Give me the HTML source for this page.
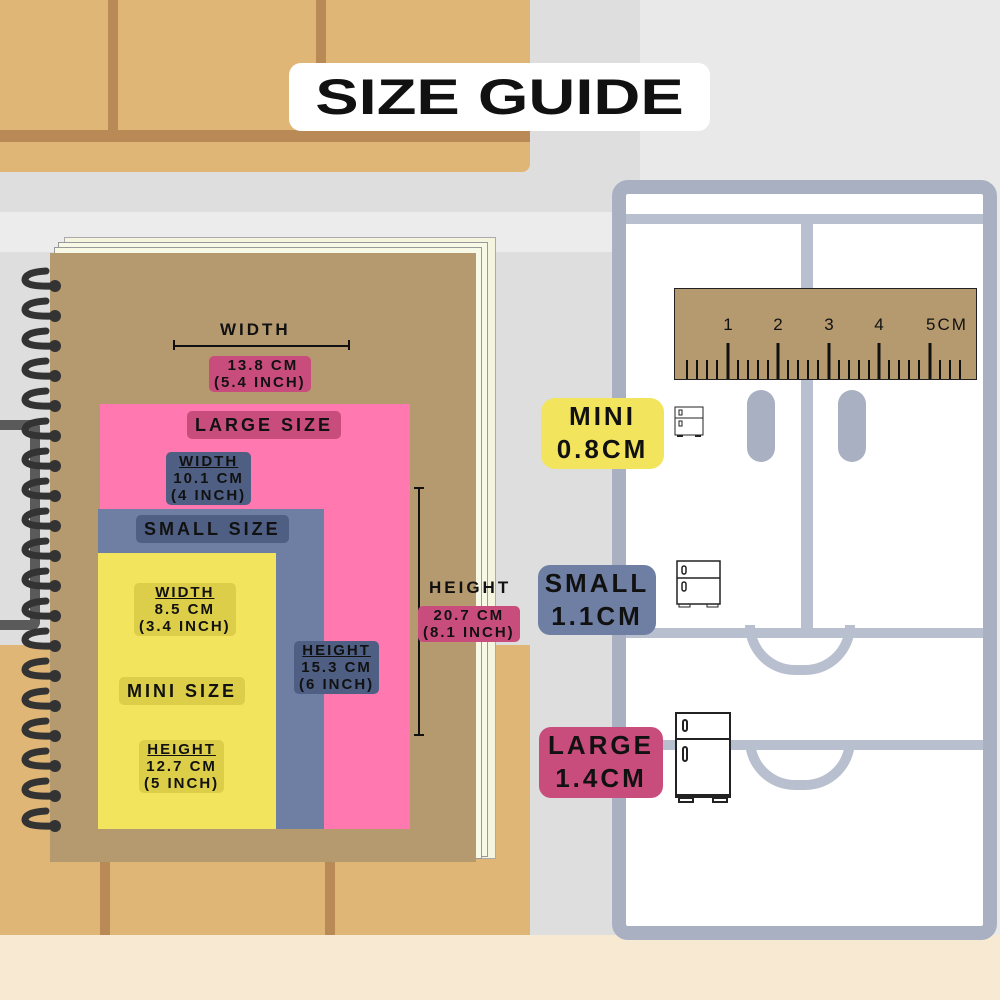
<!DOCTYPE html>
<html><head><style>
*{margin:0;padding:0;box-sizing:border-box}
body{width:1000px;height:1000px;position:relative;overflow:hidden;background:#dedede;font-family:"Liberation Sans",sans-serif;font-weight:bold;color:#111}
.a{position:absolute}
.l{position:absolute;text-align:center;letter-spacing:2px;font-size:15px;line-height:17px;border-radius:5px;padding:1px 5px}
.u{text-decoration:underline}
</style></head><body>
<!-- background -->
<div class="a" style="left:640px;top:0;width:360px;height:1000px;background:#e9e9e9"></div>
<div class="a" style="left:0;top:0;width:530px;height:172px;background:#dfb676;border-radius:0 0 8px 0"></div>
<div class="a" style="left:108px;top:0;width:10px;height:140px;background:#b98a56"></div>
<div class="a" style="left:316px;top:0;width:10px;height:140px;background:#b98a56"></div>
<div class="a" style="left:0;top:130px;width:530px;height:12px;background:#b98a56"></div>
<div class="a" style="left:0;top:212px;width:640px;height:40px;background:#ececec"></div>
<div class="a" style="left:0;top:645px;width:530px;height:290px;background:#dfb676"></div>
<div class="a" style="left:100px;top:860px;width:10px;height:75px;background:#b98a56"></div>
<div class="a" style="left:325px;top:860px;width:10px;height:75px;background:#b98a56"></div>
<div class="a" style="left:0;top:935px;width:1000px;height:65px;background:#f8ead2"></div>
<div class="a" style="left:0;top:420px;width:40px;height:210px;border:10px solid #5a5a5a;border-left:none;border-radius:0 8px 8px 0"></div>
<!-- fridge -->
<div class="a" style="left:612px;top:180px;width:385px;height:760px;border:14px solid #a8b0c2;border-radius:16px;background:#fff"></div>
<div class="a" style="left:626px;top:214px;width:357px;height:10px;background:#b8bfce"></div>
<div class="a" style="left:801px;top:220px;width:12px;height:410px;background:#b8bfce"></div>
<div class="a" style="left:626px;top:628px;width:357px;height:10px;background:#b8bfce"></div>
<div class="a" style="left:745px;top:625px;width:110px;height:50px;border:10px solid #b8bfce;border-top:none;border-radius:0 0 55px 55px"></div>
<div class="a" style="left:626px;top:740px;width:357px;height:10px;background:#b8bfce"></div>
<div class="a" style="left:745px;top:740px;width:110px;height:50px;border:10px solid #b8bfce;border-top:none;border-radius:0 0 55px 55px"></div>
<div class="a" style="left:747px;top:390px;width:28px;height:72px;background:#a8b0c2;border-radius:14px"></div>
<div class="a" style="left:838px;top:390px;width:28px;height:72px;background:#a8b0c2;border-radius:14px"></div>
<!-- title -->
<div class="a" style="left:289px;top:63px;width:421px;height:68px;background:#fff;border-radius:12px"></div>
<div class="a" style="left:289px;top:63px;width:421px;height:68px;text-align:center;font-size:50px;line-height:68px;transform:scaleX(1.3)">SIZE GUIDE</div>
<!-- notebook pages -->
<div class="a" style="left:64px;top:237px;width:432px;height:622px;background:#f4f4df;border:1px solid #aaa"></div>
<div class="a" style="left:58px;top:242px;width:430px;height:615px;border:1px solid #999;background:#f8f8e6"></div>
<div class="a" style="left:54px;top:247px;width:428px;height:612px;border:1px solid #999;background:#f8f8e6"></div>
<div class="a" style="left:50px;top:253px;width:426px;height:609px;background:#b59a6f"></div>
<!-- coils -->
<svg class="a" style="left:0;top:0" width="80" height="1000">
<g stroke="#333" stroke-width="7" fill="none" stroke-linecap="round">
<path d="M46 271 Q25 272 25 280 Q26 287 53 286"/>
<path d="M46 301 Q25 302 25 310 Q26 317 53 316"/>
<path d="M46 331 Q25 332 25 340 Q26 347 53 346"/>
<path d="M46 361 Q25 362 25 370 Q26 377 53 376"/>
<path d="M46 391 Q25 392 25 400 Q26 407 53 406"/>
<path d="M46 421 Q25 422 25 430 Q26 437 53 436"/>
<path d="M46 451 Q25 452 25 460 Q26 467 53 466"/>
<path d="M46 481 Q25 482 25 490 Q26 497 53 496"/>
<path d="M46 511 Q25 512 25 520 Q26 527 53 526"/>
<path d="M46 541 Q25 542 25 550 Q26 557 53 556"/>
<path d="M46 571 Q25 572 25 580 Q26 587 53 586"/>
<path d="M46 601 Q25 602 25 610 Q26 617 53 616"/>
<path d="M46 631 Q25 632 25 640 Q26 647 53 646"/>
<path d="M46 661 Q25 662 25 670 Q26 677 53 676"/>
<path d="M46 691 Q25 692 25 700 Q26 707 53 706"/>
<path d="M46 721 Q25 722 25 730 Q26 737 53 736"/>
<path d="M46 751 Q25 752 25 760 Q26 767 53 766"/>
<path d="M46 781 Q25 782 25 790 Q26 797 53 796"/>
<path d="M46 811 Q25 812 25 820 Q26 827 53 826"/>
</g>
<g fill="#333">
<circle cx="55" cy="286" r="6"/><circle cx="55" cy="316" r="6"/><circle cx="55" cy="346" r="6"/><circle cx="55" cy="376" r="6"/><circle cx="55" cy="406" r="6"/><circle cx="55" cy="436" r="6"/><circle cx="55" cy="466" r="6"/><circle cx="55" cy="496" r="6"/><circle cx="55" cy="526" r="6"/><circle cx="55" cy="556" r="6"/><circle cx="55" cy="586" r="6"/><circle cx="55" cy="616" r="6"/><circle cx="55" cy="646" r="6"/><circle cx="55" cy="676" r="6"/><circle cx="55" cy="706" r="6"/><circle cx="55" cy="736" r="6"/><circle cx="55" cy="766" r="6"/><circle cx="55" cy="796" r="6"/><circle cx="55" cy="826" r="6"/>
</g>
</svg>
<!-- width dimension -->
<div class="a" style="left:220px;top:320px;font-size:17px;letter-spacing:3px">WIDTH</div>
<div class="a" style="left:173px;top:345px;width:177px;height:2px;background:#111"></div>
<div class="a" style="left:173px;top:340px;width:2px;height:10px;background:#111"></div>
<div class="a" style="left:348px;top:340px;width:2px;height:10px;background:#111"></div>
<div class="l" style="left:209px;top:356px;background:#c94d7c">&nbsp;13.8 CM<br>(5.4 INCH)</div>
<!-- rects -->
<div class="a" style="left:100px;top:404px;width:310px;height:425px;background:#ff78b0"></div>
<div class="a" style="left:98px;top:509px;width:226px;height:320px;background:#6f7fa3"></div>
<div class="a" style="left:98px;top:553px;width:178px;height:276px;background:#f2e45c"></div>
<div class="l" style="left:187px;top:411px;background:#c94d7c;font-size:18px;line-height:26px;padding:1px 8px;letter-spacing:3px">LARGE SIZE</div>
<div class="l" style="left:166px;top:452px;background:#4f5f84"><span class="u">WIDTH</span><br>10.1 CM<br>(4 INCH)</div>
<div class="l" style="left:136px;top:515px;background:#4f5f84;font-size:18px;line-height:26px;padding:1px 8px;letter-spacing:3px">SMALL SIZE</div>
<div class="l" style="left:134px;top:583px;background:#dcce48"><span class="u">WIDTH</span><br>8.5 CM<br>(3.4 INCH)</div>
<div class="l" style="left:119px;top:677px;background:#dcce48;font-size:18px;line-height:26px;padding:1px 8px;letter-spacing:3px">MINI SIZE</div>
<div class="l" style="left:139px;top:740px;background:#dcce48"><span class="u">HEIGHT</span><br>12.7 CM<br>(5 INCH)</div>
<div class="l" style="left:294px;top:641px;background:#4f5f84"><span class="u">HEIGHT</span><br>15.3 CM<br>(6 INCH)</div>
<!-- height dimension -->
<div class="a" style="left:418px;top:487px;width:2px;height:249px;background:#111"></div>
<div class="a" style="left:414px;top:487px;width:10px;height:2px;background:#111"></div>
<div class="a" style="left:414px;top:734px;width:10px;height:2px;background:#111"></div>
<div class="a" style="left:429px;top:578px;font-size:17px;letter-spacing:3px">HEIGHT</div>
<div class="l" style="left:418px;top:606px;background:#c94d7c">20.7 CM<br>(8.1 INCH)</div>
<!-- ruler -->
<svg class="a" style="left:674px;top:288px" width="304" height="93">
<rect x="0.5" y="0.5" width="302" height="91" fill="#b59a6f" stroke="#222"/>
<g font-family="Liberation Sans" font-size="17" fill="#111" text-anchor="middle" font-weight="normal">
<text x="54" y="42">1</text><text x="104" y="42">2</text><text x="155" y="42">3</text><text x="205" y="42">4</text><text x="273" y="42" letter-spacing="2">5CM</text>
</g>
<g stroke="#111" stroke-width="2">
<line x1="13" x2="13" y1="72" y2="91"/><line x1="23" x2="23" y1="72" y2="91"/><line x1="33" x2="33" y1="72" y2="91"/><line x1="43" x2="43" y1="72" y2="91"/>
<line x1="54" x2="54" y1="55" y2="91" stroke-width="3"/>
<line x1="64" x2="64" y1="72" y2="91"/><line x1="74" x2="74" y1="72" y2="91"/><line x1="84" x2="84" y1="72" y2="91"/><line x1="94" x2="94" y1="72" y2="91"/>
<line x1="104" x2="104" y1="55" y2="91" stroke-width="3"/>
<line x1="114" x2="114" y1="72" y2="91"/><line x1="124" x2="124" y1="72" y2="91"/><line x1="134" x2="134" y1="72" y2="91"/><line x1="144" x2="144" y1="72" y2="91"/>
<line x1="155" x2="155" y1="55" y2="91" stroke-width="3"/>
<line x1="165" x2="165" y1="72" y2="91"/><line x1="175" x2="175" y1="72" y2="91"/><line x1="185" x2="185" y1="72" y2="91"/><line x1="195" x2="195" y1="72" y2="91"/>
<line x1="205" x2="205" y1="55" y2="91" stroke-width="3"/>
<line x1="215" x2="215" y1="72" y2="91"/><line x1="225" x2="225" y1="72" y2="91"/><line x1="235" x2="235" y1="72" y2="91"/><line x1="245" x2="245" y1="72" y2="91"/>
<line x1="256" x2="256" y1="55" y2="91" stroke-width="3"/>
<line x1="266" x2="266" y1="72" y2="91"/><line x1="276" x2="276" y1="72" y2="91"/><line x1="286" x2="286" y1="72" y2="91"/>
</g>
</svg>
<!-- size tags -->
<div class="a" style="left:541px;top:398px;width:123px;height:71px;background:#f2e45c;border-radius:14px;text-align:center;font-size:26px;line-height:33px;letter-spacing:3px;padding-top:2px">MINI<br>0.8CM</div>
<div class="a" style="left:538px;top:565px;width:118px;height:70px;background:#6f7fa3;border-radius:12px;text-align:center;font-size:26px;line-height:33px;letter-spacing:3px;padding-top:2px">SMALL<br>1.1CM</div>
<div class="a" style="left:539px;top:727px;width:124px;height:71px;background:#c94d7c;border-radius:12px;text-align:center;font-size:26px;line-height:33px;letter-spacing:3px;padding-top:2px">LARGE<br>1.4CM</div>
<!-- mini fridges -->
<svg class="a" style="left:674px;top:406px" width="32" height="33"><rect x="1" y="1" width="28" height="28" fill="#fff" stroke="#222"/><line x1="1" y1="12" x2="29" y2="12" stroke="#222"/><rect x="5" y="4" width="3" height="5" fill="none" stroke="#222"/><rect x="5" y="15" width="3" height="5" fill="none" stroke="#222"/><rect x="3" y="29" width="6" height="2" fill="#222"/><rect x="21" y="29" width="6" height="2" fill="#222"/></svg>
<svg class="a" style="left:676px;top:560px" width="46" height="54"><rect x="1" y="1" width="43" height="43" fill="#fff" stroke="#222" stroke-width="1.5"/><line x1="1" y1="18" x2="44" y2="18" stroke="#222" stroke-width="1.5"/><rect x="6" y="6" width="4" height="8" rx="2" fill="none" stroke="#222" stroke-width="1.5"/><rect x="6" y="22" width="4" height="9" rx="2" fill="none" stroke="#222" stroke-width="1.5"/><rect x="3" y="44" width="11" height="3" fill="none" stroke="#222"/><rect x="31" y="44" width="11" height="3" fill="none" stroke="#222"/></svg>
<div class="a" style="left:675px;top:712px;width:56px;height:84px;border:2px solid #222;background:#fff"></div>
<div class="a" style="left:675px;top:738px;width:56px;height:2px;background:#222"></div>
<div class="a" style="left:682px;top:719px;width:6px;height:13px;border:2px solid #222;border-radius:3px"></div>
<div class="a" style="left:682px;top:746px;width:6px;height:16px;border:2px solid #222;border-radius:3px"></div>
<div class="a" style="left:675px;top:796px;width:56px;height:2px;background:#222"></div>
<div class="a" style="left:678px;top:797px;width:16px;height:6px;border:2px solid #222"></div>
<div class="a" style="left:712px;top:797px;width:16px;height:6px;border:2px solid #222"></div>
</body></html>
